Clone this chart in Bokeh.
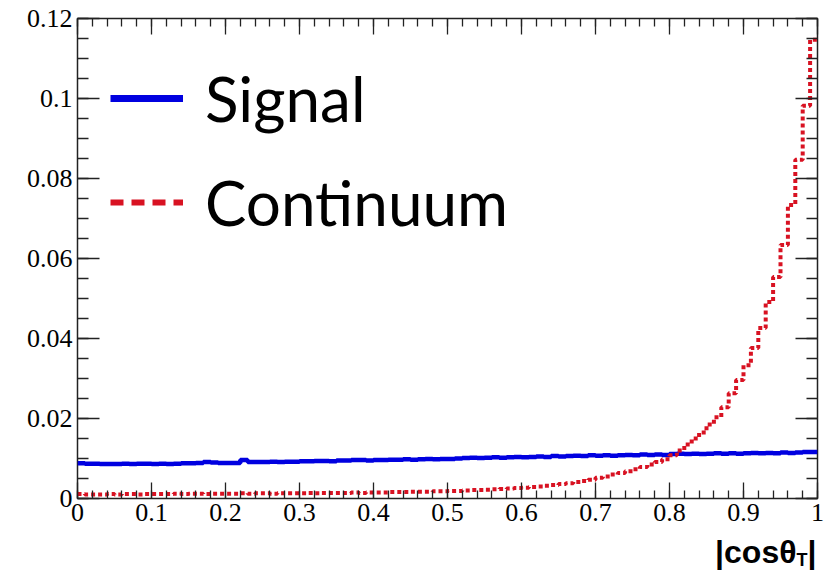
import numpy as np
from bokeh.plotting import figure
from bokeh.models import (LinearAxis, SingleIntervalTicker, CustomJSTickFormatter,
                          Range1d, Legend, LegendItem, Label)
from bokeh.embed import file_html
from bokeh.resources import INLINE

# ---------------- data ----------------
n_bins = 100
bin_edges = np.linspace(0.0, 1.0, n_bins + 1)

signal = [
    0.0088, 0.0087, 0.0087, 0.0086, 0.0086, 0.0086, 0.0087, 0.0086, 0.0087, 0.0087,
    0.0086, 0.0087, 0.0086, 0.0087, 0.0088, 0.0088, 0.0089, 0.0091, 0.0090, 0.0089,
    0.0089, 0.0089, 0.0096, 0.0091, 0.0091, 0.0091, 0.0092, 0.0091, 0.0092, 0.0092,
    0.0093, 0.0093, 0.0094, 0.0094, 0.0093, 0.0095, 0.0095, 0.0096, 0.0096, 0.0095,
    0.0096, 0.0096, 0.0097, 0.0097, 0.0098, 0.0097, 0.0098, 0.0099, 0.0098, 0.0099,
    0.0099, 0.0100, 0.0101, 0.0102, 0.0101, 0.0102, 0.0103, 0.0102, 0.0103, 0.0104,
    0.0103, 0.0104, 0.0105, 0.0104, 0.0106, 0.0105, 0.0106, 0.0107, 0.0106, 0.0108,
    0.0107, 0.0108, 0.0107, 0.0108, 0.0109, 0.0108, 0.0110, 0.0109, 0.0110, 0.0109,
    0.0111, 0.0112, 0.0111, 0.0112, 0.0111, 0.0112, 0.0113, 0.0112, 0.0113, 0.0112,
    0.0113, 0.0114, 0.0113, 0.0114, 0.0113, 0.0115, 0.0114, 0.0115, 0.0116, 0.0116,
]

continuum = [
    0.0011, 0.0010, 0.0010, 0.0010, 0.0011, 0.0010, 0.0011, 0.0011, 0.0010, 0.0011,
    0.0011, 0.0011, 0.0011, 0.0012, 0.0011, 0.0012, 0.0012, 0.0011, 0.0012, 0.0012,
    0.0012, 0.0012, 0.0013, 0.0012, 0.0013, 0.0013, 0.0012, 0.0013, 0.0013, 0.0013,
    0.0013, 0.0014, 0.0013, 0.0014, 0.0014, 0.0014, 0.0014, 0.0015, 0.0014, 0.0015,
    0.0015, 0.0015, 0.0016, 0.0016, 0.0016, 0.0017, 0.0017, 0.0017, 0.0018, 0.0018,
    0.0019, 0.0019, 0.0020, 0.0021, 0.0021, 0.0022, 0.0023, 0.0024, 0.0025, 0.0026,
    0.0027, 0.0029, 0.0030, 0.0032, 0.0034, 0.0036, 0.0038, 0.0041, 0.0044, 0.0047,
    0.0052, 0.0055, 0.0060, 0.0064, 0.0068, 0.0073, 0.0079, 0.0085, 0.0091, 0.0098,
    0.0108, 0.0120, 0.0135, 0.0150, 0.0165, 0.0185, 0.0203, 0.0228, 0.0263, 0.0296,
    0.0333, 0.0376, 0.0426, 0.0491, 0.0554, 0.0634, 0.0734, 0.0847, 0.0982, 0.1147,
]

series_labels = ["Signal", "Continuum"]
x_title = "|cosθ"
x_title_sub = "T"
x_title_end = "|"

BLUE = "#0000e0"
RED = "#d81222"

# ---------------- figure ----------------
p = figure(width=828, height=572, output_backend="svg", toolbar_location=None,
           x_range=Range1d(0.0, 1.0), y_range=Range1d(0.0, 0.1200001),
           x_axis_type=None, y_axis_type=None,
           min_border_left=77, min_border_right=11, min_border_top=18, min_border_bottom=74)
p.outline_line_color = "#222222"
p.outline_line_width = 1.5
p.background_fill_color = "white"
p.border_fill_color = "white"

fmt = CustomJSTickFormatter(code="return String(parseFloat(tick.toFixed(4)));")


def make_axis(ticker, major_in, minor_in, labels):
    ax = LinearAxis(ticker=ticker, formatter=fmt)
    ax.axis_line_color = None
    ax.major_tick_in = major_in
    ax.major_tick_out = 0
    ax.minor_tick_in = minor_in
    ax.minor_tick_out = 0
    ax.major_tick_line_color = "#222222"
    ax.minor_tick_line_color = "#222222"
    ax.major_tick_line_width = 1.3
    ax.minor_tick_line_width = 1.3
    if labels:
        ax.major_label_text_font = "Liberation Serif"
        ax.major_label_text_font_size = "26px"
        ax.major_label_text_color = "black"
        ax.major_label_standoff = 5
    else:
        ax.major_label_text_font_size = "1px"
        ax.major_label_text_color = None
        ax.major_label_standoff = 0
    return ax


p.add_layout(make_axis(SingleIntervalTicker(interval=0.1, num_minor_ticks=5), 16, 8, True), "below")
p.add_layout(make_axis(SingleIntervalTicker(interval=0.02, num_minor_ticks=4), 22, 11, True), "left")
p.add_layout(make_axis(SingleIntervalTicker(interval=0.1, num_minor_ticks=5), 16, 8, False), "above")
p.add_layout(make_axis(SingleIntervalTicker(interval=0.02, num_minor_ticks=4), 22, 11, False), "right")

# ---------------- histograms ----------------
xs = list(bin_edges)
p.step(xs, signal + [signal[-1]], mode="after", line_color=BLUE, line_width=4.5)
p.step(xs, continuum + [continuum[-1]], mode="after", line_color=RED, line_width=4,
       line_dash="4 3")

# legend-only renderers (bigger styling as in the reference legend), no visible data
leg_sig = p.line([np.nan], [np.nan], line_color=BLUE, line_width=7)
leg_con = p.line([np.nan], [np.nan], line_color=RED, line_width=6, line_dash="13 8")

legend = Legend(items=[LegendItem(label=series_labels[0], renderers=[leg_sig]),
                       LegendItem(label=series_labels[1], renderers=[leg_con])],
                location=(33, 244))
legend.glyph_width = 73
legend.glyph_height = 104
legend.label_height = 104
legend.spacing = 0
legend.padding = 0
legend.margin = 0
legend.label_standoff = 22
legend.border_line_color = None
legend.background_fill_alpha = 0
legend.label_text_font = "Lato"
legend.label_text_font_size = "62px"
legend.label_text_color = "black"
p.add_layout(legend)

# ---------------- x-axis title (side panels, so it is not clipped to the frame) ----------------
p.add_layout(Label(x=1.0, y=0.0, x_offset=-21, y_offset=-53, text=x_title,
                   text_align="right", text_baseline="alphabetic",
                   text_font="Liberation Sans", text_font_style="bold",
                   text_font_size="32px", text_color="black"), "below")
p.add_layout(Label(x=1.0, y=0.0, x_offset=-21, y_offset=-61, text=x_title_sub,
                   text_align="left", text_baseline="alphabetic",
                   text_font="Liberation Sans", text_font_style="bold",
                   text_font_size="18px", text_color="black"), "left")
p.add_layout(Label(x=1.0, y=0.0, x_offset=-1, y_offset=-53, text=x_title_end,
                   text_align="right", text_baseline="alphabetic",
                   text_font="Liberation Sans", text_font_style="bold",
                   text_font_size="32px", text_color="black"), "left")

open("out.html", "w").write(file_html(p, INLINE))
